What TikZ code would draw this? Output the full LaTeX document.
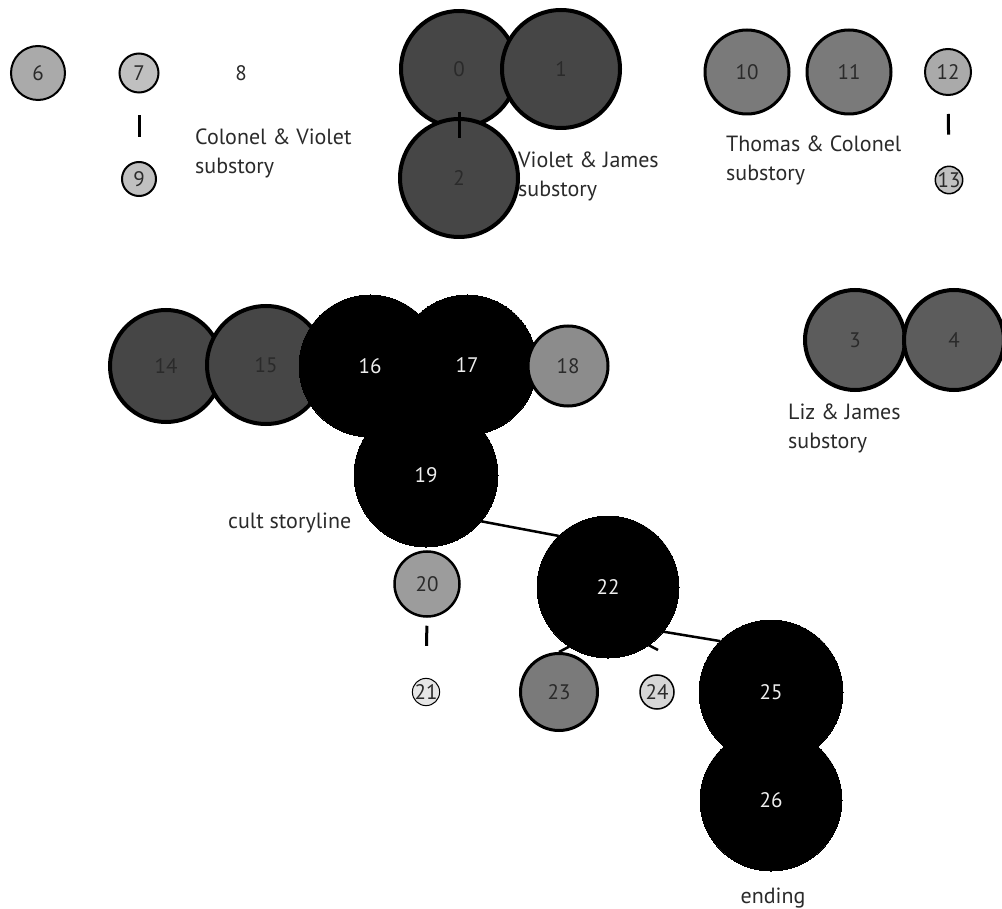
\documentclass[tikz,border=0pt]{standalone}
\usepackage{fontspec}
\setmainfont{PT Sans}
\newcommand{\numfont}{\fontsize{21}{25}\selectfont}
\newcommand{\lblfont}{\fontsize{22}{29}\selectfont}
\definecolor{ink}{HTML}{2A2A2A}
\definecolor{paleink}{HTML}{EEEEEE}
\definecolor{gDark}{HTML}{464646}
\definecolor{gDeep}{HTML}{5C5C5C}
\definecolor{gMid}{HTML}{7A7A7A}
\definecolor{gSoft}{HTML}{8C8C8C}
\definecolor{gLight}{HTML}{9C9C9C}
\definecolor{gPale}{HTML}{AAAAAA}
\definecolor{gFaint}{HTML}{C0C0C0}
\definecolor{gWhite}{HTML}{D6D6D6}
\tikzset{
  bubble/.style={circle, draw=black, inner sep=0pt, font=\numfont, text=ink},
  heavy/.style={bubble, line width=4pt, fill=gDark},
  plot/.style={bubble, line width=0pt, draw=black, fill=black, text=paleink},
  caption/.style={font=\lblfont, text=ink, align=left, inner sep=0pt},
  link/.style={line width=3pt, draw=black},
  thin link/.style={line width=2.5pt, draw=black}
}
\begin{document}
\begin{tikzpicture}[x=1pt, y=-1pt]
\useasboundingbox (0,0) rectangle (1002,909);

% Colonel & Violet substory
\node[bubble, line width=2pt, fill=gPale, minimum size=54pt] (n6) at (38,73) {6};
\node[bubble, line width=2pt, fill=gFaint, minimum size=39pt] (n7) at (139,73) {7};
\node[font=\numfont, text=ink] (n8) at (241,73) {8};
\node[bubble, line width=2pt, fill=gFaint, minimum size=34pt] (n9) at (139,179) {9};
\draw[link, shorten <=22pt, shorten >=24pt] (n7.south) -- (n9.north);
\node[caption, anchor=base west] (cv) at (195,174) {Colonel \& Violet\\substory};

% Violet & James substory
\node[heavy, minimum size=116pt] (n0) at (459,69) {0};
\node[heavy, minimum size=118pt] (n1) at (561,69) {1};
\node[heavy, minimum size=118pt] (n2) at (459,178) {2};
\draw[link, shorten <=43pt, shorten >=40pt] (n0.center) -- (n2.center);
\node[caption, anchor=base west] (vj) at (518,197) {Violet \& James\\substory};

% Thomas & Colonel substory
\node[bubble, line width=3pt, fill=gMid, minimum size=84pt] (n10) at (747,72) {10};
\node[bubble, line width=3pt, fill=gMid, minimum size=84pt] (n11) at (849,72) {11};
\node[bubble, line width=2pt, fill=gPale, minimum size=46pt] (n12) at (948,72) {12};
\node[bubble, line width=1.5pt, fill=gFaint, minimum size=23pt] (n13) at (949,180) {13};
\draw[link, shorten <=18pt, shorten >=31pt] (n12.south) -- (n13.north);
\node[caption, anchor=base west] (tc) at (726,181) {Thomas \& Colonel\\substory};

% Liz & James substory
\node[bubble, line width=4pt, fill=gDeep, minimum size=100pt] (n3) at (855,340) {3};
\node[bubble, line width=4pt, fill=gDeep, minimum size=100pt] (n4) at (954,340) {4};
\node[caption, anchor=base west] (lj) at (788,449) {Liz \& James\\substory};

% cult storyline
\node[heavy, minimum size=112pt] (n14) at (166,366) {14};
\node[heavy, minimum size=118pt] (n15) at (266,365) {15};
\node[plot, minimum size=142pt] (n16) at (370,366) {16};
\node[plot, minimum size=140pt] (n17) at (467,365) {17};
\node[bubble, line width=3pt, fill=gSoft, minimum size=80pt] (n18) at (568,366) {18};
\node[plot, minimum size=144pt] (n19) at (426,475) {19};
\node[caption, anchor=base west] (cs) at (228,528) {cult storyline};

\node[bubble, line width=2.5pt, fill=gLight, minimum size=65pt] (n20) at (427,584) {20};
\node[bubble, line width=1pt, fill=gWhite!60!white, minimum size=20pt] (n21) at (426,692) {21};
\draw[link, shorten <=8pt, shorten >=32pt] (n20.south) -- (n21.north);

\node[plot, minimum size=142pt] (n22) at (608,587) {22};
\draw[thin link] (n19.-40) -- (n22.134);

\node[bubble, line width=3pt, fill=gMid, minimum size=77pt] (n23) at (559,692) {23};
\node[bubble, line width=1.5pt, fill=gWhite, minimum size=34pt] (n24) at (657,692) {24};
\coordinate (e24) at (658,650);
\draw[thin link] (n23.north) -- (n22.237);
\draw[thin link] (n22.-55) -- (e24);

% ending
\node[plot, minimum size=144pt] (n25) at (771,692) {25};
\node[plot, minimum size=142pt] (n26) at (771,800) {26};
\draw[thin link] (n22.-39) -- (n25.135);
\node[font=\lblfont, text=ink, inner sep=0pt, anchor=base] (end) at (773,903) {ending};
\end{tikzpicture}
\end{document}
